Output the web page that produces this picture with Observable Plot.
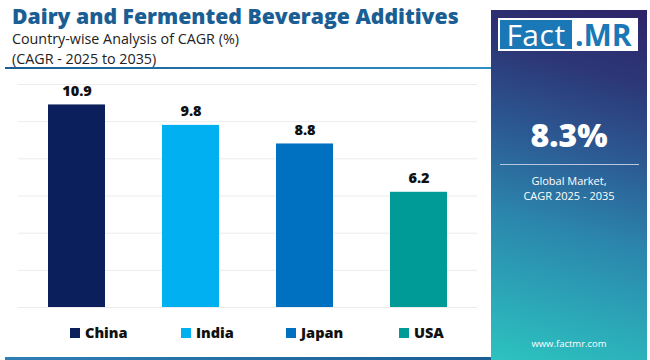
<!DOCTYPE html>
<html>
<head>
<meta charset="utf-8">
<script src="https://cdn.jsdelivr.net/npm/d3@7"></script>
<script src="https://cdn.jsdelivr.net/npm/@observablehq/plot@0.6"></script>
<style>
  html, body { margin: 0; padding: 0; background: #fff; }
  #wrap { position: relative; width: 650px; height: 360px; overflow: hidden; background: #fff; font-family: "Open Sans", "DejaVu Sans", sans-serif; }
  #title { position: absolute; left: 12px; top: 3px; font-size: 21.2px; line-height: 26px; font-weight: 800; color: #1a5e94; white-space: nowrap; }
  .sub { position: absolute; left: 12px; font-size: 14.3px; line-height: 18px; color: #222; white-space: nowrap; }
  #topline { position: absolute; left: 5px; top: 67px; width: 486px; height: 2px; background: linear-gradient(to right, #1a5e94, #2f8fc4); }
  #botline { position: absolute; left: 5px; top: 357px; width: 486px; height: 3px; background: linear-gradient(to right, #2f7fb4, #1a5e94); }
  #chart { position: absolute; left: 0; top: 70px; }
  #legend { position: absolute; top: 323px; left: 0; width: 490px; height: 20px; }
  .li { position: absolute; display: flex; align-items: center; font-size: 14.5px; font-weight: 800; color: #111; }
  .sw { width: 10px; height: 10px; margin-right: 5px; margin-top: 1px; }
  #panel { position: absolute; left: 491px; top: 10px; width: 156px; height: 350px;
    background: linear-gradient(15deg, #2cc3c0 0%, #2b86ad 38%, #2c5a93 60%, #2c3878 80%, #2d2468 100%); }
  #logo { position: absolute; left: 7px; top: 8px; width: 140px; height: 33px; background: #fff; }
  #fact { position: absolute; left: 2px; top: 2px; width: 72px; height: 29px; background: #1a78b6; color: #fff; font-size: 30px; line-height: 29px; text-align: center; font-family: "Open Sans", sans-serif; letter-spacing: 0.5px; }
  #mr { position: absolute; left: 77px; top: 2px; height: 29px; color: #1a78b6; font-size: 30px; line-height: 29px; font-weight: 700; font-family: "Open Sans", sans-serif; }
  #big { position: absolute; left: 0; width: 156px; top: 105px; line-height: 40px; text-align: center; color: #fff; font-size: 32px; font-weight: 800; }
  #pline { position: absolute; left: 9px; top: 154px; width: 139px; height: 1px; background: #b9c6e0; }
  #gm { position: absolute; left: 0; width: 156px; top: 163px; text-align: center; color: #fff; font-size: 11px; line-height: 15px; }
  #url { position: absolute; left: 0; width: 156px; top: 327px; text-align: center; color: #fff; font-size: 9.5px; }
</style>
</head>
<body>
<div id="wrap">
  <div id="title"></div>
  <div class="sub" id="sub1" style="top:30px"></div>
  <div class="sub" id="sub2" style="top:50px"></div>
  <div id="topline"></div>
  <div id="chart"></div>
  <div id="legend"></div>
  <div id="botline"></div>
  <div id="panel">
    <div id="logo"><div id="fact">Fact</div><div id="mr">.MR</div></div>
    <div id="big"></div>
    <div id="pline"></div>
    <div id="gm"></div>
    <div id="url">www.factmr.com</div>
  </div>
</div>
<script>
const titleText = "Dairy and Fermented Beverage Additives";
const subtitle1 = "Country-wise Analysis of CAGR (%)";
const subtitle2 = "(CAGR - 2025 to 2035)";
const countries = ["China", "India", "Japan", "USA"];
const cagr = [10.9, 9.8, 8.8, 6.2];
const colors = ["#0a1f5c", "#00b0f0", "#0070c0", "#009a97"];
const gridTicks = [0, 2, 4, 6, 8, 10, 12];
const globalValue = "8.3%";
const globalLabel = ["Global Market,", "CAGR 2025 - 2035"];
const legendX = [70, 181, 286, 399];

document.getElementById("title").textContent = titleText;
document.getElementById("sub1").textContent = subtitle1;
document.getElementById("sub2").textContent = subtitle2;
document.getElementById("big").textContent = globalValue;
document.getElementById("gm").innerHTML = globalLabel.join("<br>");

const data = countries.map((c, i) => ({country: c, value: cagr[i]}));

const chart = Plot.plot({
  width: 490,
  height: 245,
  marginLeft: 18,
  marginRight: 13,
  marginTop: 14,
  marginBottom: 8,
  style: {fontFamily: "Open Sans, sans-serif", background: "transparent"},
  x: {domain: countries, paddingInner: 0.5, paddingOuter: 0.25, axis: null},
  y: {domain: [0, 12], axis: null},
  color: {domain: countries, range: colors},
  marks: [
    Plot.ruleY(gridTicks, {stroke: "#ececec", strokeWidth: 1}),
    Plot.barY(data, {x: "country", y: "value", fill: "country"}),
    Plot.text(data, {x: "country", y: "value", text: d => d.value.toFixed(1), dy: -9, lineAnchor: "bottom", fontSize: 14.5, fontWeight: 800, fill: "#111"})
  ]
});
document.getElementById("chart").appendChild(chart);

const legend = document.getElementById("legend");
countries.forEach((c, i) => {
  const li = document.createElement("div");
  li.className = "li";
  li.style.left = legendX[i] + "px";
  li.innerHTML = `<span class="sw" style="background:${colors[i]}"></span>${c}`;
  legend.appendChild(li);
});
</script>
</body>
</html>
